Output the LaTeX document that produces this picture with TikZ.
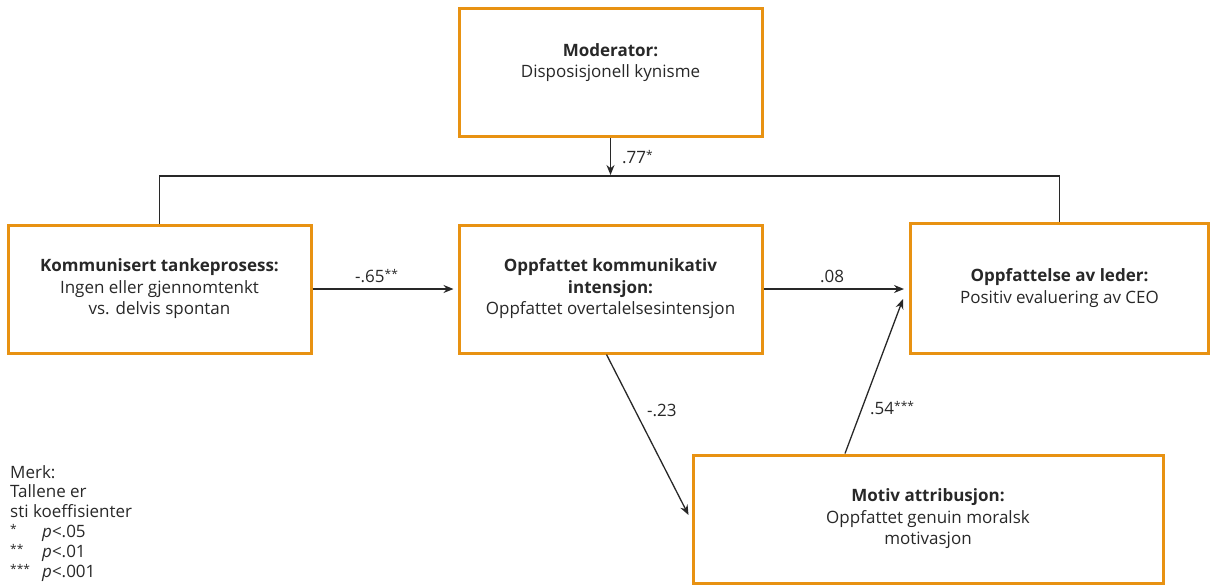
\documentclass[tikz,border=0pt]{standalone}
\usepackage{fontspec}
\setmainfont{Open Sans}
\usetikzlibrary{arrows.meta}
\definecolor{boxor}{RGB}{232,146,18}
\definecolor{ink}{RGB}{40,40,40}
\newcommand\sigst[1]{\raisebox{4pt}{\fontsize{12}{12}\selectfont #1}}
\begin{document}
\begin{tikzpicture}[x=1pt,y=-1pt,
  every node/.style={text=ink},
  vbox/.style={draw=boxor,line width=3pt,fill=white,align=center,inner sep=0pt,
     font=\fontsize{17}{21.5}\selectfont},
  conn/.style={draw=ink,line width=1.3pt},
  arr/.style={conn,-{Stealth[length=10pt,width=8pt]}},
  coef/.style={font=\fontsize{17}{20}\selectfont,anchor=base west,inner sep=0pt},
]
\useasboundingbox (0,0) rectangle (1213,587);
\node[vbox,minimum width=303pt,minimum height=128pt] (mod) at (610.5,72)
  {\textbf{Moderator:}\\Disposisjonell kynisme\\[1pt]};
\node[vbox,minimum width=303pt,minimum height=128pt] (kom) at (159.5,289)
  {\textbf{Kommunisert tankeprosess:}\\Ingen eller gjennomtenkt\\vs. delvis spontan};
\node[vbox,minimum width=303pt,minimum height=128pt] (opp) at (610.5,289)
  {\textbf{Oppfattet kommunikativ}\\\textbf{intensjon:}\\Oppfattet overtalelsesintensjon};
\node[vbox,minimum width=298pt,minimum height=130pt] (led) at (1059.5,288)
  {\textbf{Oppfattelse av leder:}\\Positiv evaluering av CEO};
\node[vbox,minimum width=470pt,minimum height=128pt] (mot) at (928,519)
  {\textbf{Motiv attribusjon:}\\Oppfattet genuin moralsk\\motivasjon};
\coordinate (j) at (610.5,176);
\draw[conn] (kom.north) |- (j) -| (led.north);
\draw[arr,shorten >=1pt] (mod.south) -- (j);
\draw[arr,shorten >=4pt] (kom.east) -- (opp.west);
\draw[arr,shorten >=5pt] (opp.east) -- (led.west |- opp.east);
\draw[arr] ([xshift=-4pt]opp.south) -- ([xshift=-3pt,yshift=4pt]mot.west);
\draw[arr] ([xshift=-83pt]mot.north) -- ([xshift=-6pt,yshift=-11pt]led.west);
\node[coef] (l77) at (622,163) {.77\sigst{*}};
\node[coef] (l65) at (355,282) {-.65\sigst{**}};
\node[coef] (l08) at (820,282) {.08};
\node[coef] (l23) at (647,416) {-.23};
\node[coef] (l54) at (870,414) {.54\sigst{***}};
\node[anchor=base west,inner sep=0pt,align=left,font=\fontsize{17}{19.8}\selectfont] (note) at (10,577)
  {Merk:\\Tallene er\\sti koeffisienter\\\makebox[32pt][l]{\sigst{*}}\textit{p}<.05\\\makebox[32pt][l]{\sigst{**}}\textit{p}<.01\\\makebox[32pt][l]{\sigst{***}}\textit{p}<.001};
\end{tikzpicture}
\end{document}
